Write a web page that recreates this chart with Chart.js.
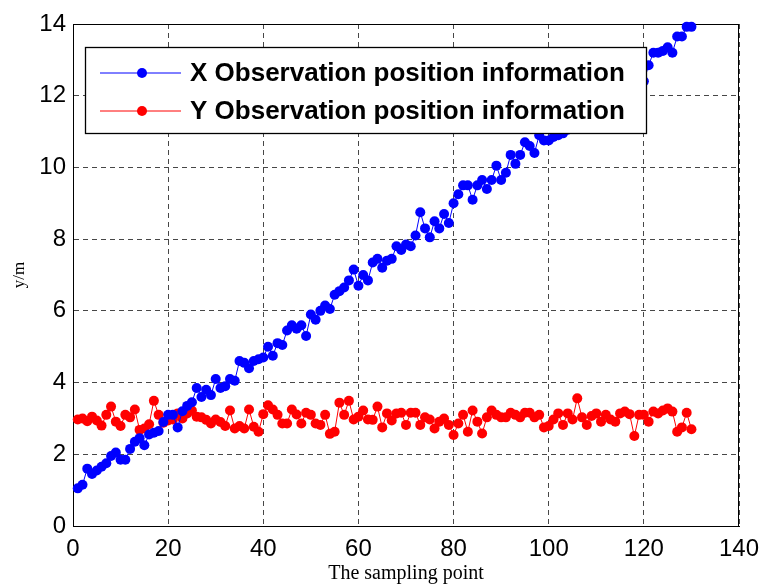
<!DOCTYPE html>
<html><head><meta charset="utf-8">
<script src="https://cdn.jsdelivr.net/npm/chart.js@4/dist/chart.umd.min.js"></script>
<style>html,body{margin:0;padding:0;background:#fff;}#wrap{width:762px;height:586px;}</style>
</head><body><div id="wrap"><canvas id="c" width="762" height="586"></canvas></div>
<script>
const seriesNames = ['X Observation position information', 'Y Observation position information'];
const xObservation = [
 1.05,1.15,1.6,1.45,1.55,1.65,1.75,1.95,2.05,1.85,
 1.85,2.15,2.35,2.45,2.25,2.55,2.6,2.65,2.9,3.1,
 3.1,2.75,3.2,3.35,3.45,3.85,3.6,3.8,3.65,4.1,
 3.85,3.9,4.1,4.05,4.6,4.55,4.4,4.6,4.65,4.7,
 5.0,4.75,5.1,5.05,5.45,5.6,5.5,5.6,5.3,5.9,
 5.75,6.0,6.15,6.05,6.45,6.55,6.65,6.85,7.15,6.7,
 7.0,6.85,7.35,7.45,7.2,7.4,7.45,7.8,7.7,7.85,
 7.8,8.1,8.75,8.3,8.05,8.5,8.3,8.7,8.45,9.0,
 9.25,9.5,9.5,9.1,9.5,9.65,9.4,9.65,10.05,9.65,
 9.85,10.35,10.1,10.35,10.7,10.6,10.4,10.9,10.75,10.75,
 10.85,10.9,10.95,11.05,11.15,11.1,11.3,11.4,11.35,11.55,
 11.6,11.7,11.65,11.85,11.9,12.0,12.1,12.05,12.25,12.4,
 12.85,13.2,13.2,13.25,13.35,13.2,13.65,13.65,13.92,13.92
];
const yObservation = [
 2.97,3.0,2.92,3.05,2.94,2.8,3.1,3.33,2.91,2.79,
 3.1,3.03,3.25,2.68,2.72,2.84,3.49,3.1,2.88,2.94,
 2.97,3.14,3.0,3.14,3.22,3.05,3.03,2.96,2.86,2.97,
 2.9,2.79,3.22,2.72,2.79,2.72,3.25,2.77,2.63,3.12,
 3.37,3.25,3.1,2.86,2.86,3.25,3.11,2.86,3.16,3.1,
 2.86,2.82,3.1,2.57,2.63,3.44,3.1,3.49,2.97,3.05,
 3.22,2.97,2.96,3.33,2.75,3.14,2.94,3.14,3.16,2.82,
 3.16,3.16,2.82,3.03,2.97,2.72,2.91,3.0,2.82,2.54,
 2.86,3.1,2.63,3.22,2.91,2.58,3.03,3.22,3.1,3.03,
 3.03,3.16,3.1,3.03,3.16,3.16,3.03,3.1,2.75,2.79,
 2.97,3.14,2.82,3.14,2.97,3.56,3.03,2.82,3.07,3.14,
 2.91,3.1,2.97,2.91,3.14,3.19,3.12,2.51,3.1,3.1,
 2.91,3.19,3.14,3.22,3.28,3.19,2.63,2.75,3.16,2.7
];
const xTickValues = [0,20,40,60,80,100,120,140];
const yTickValues = [0,2,4,6,8,10,12,14];
const seriesColors = ['#0000ff', '#ff0000'];

const toPoints = arr => arr.map((v, i) => ({x: i + 1, y: v}));

const frameAndLegend = {
  id: 'frameAndLegend',
  beforeDatasetsDraw(chart) {
    const {ctx, chartArea: a} = chart;
    ctx.save();
    ctx.strokeStyle = '#000';
    ctx.lineWidth = 1;
    ctx.setLineDash([]);
    ctx.strokeRect(Math.round(a.left) + 0.5, Math.round(a.top) + 0.5, Math.round(a.right - a.left) - 1, Math.round(a.bottom - a.top));
    ctx.restore();
  },
  afterDraw(chart) {
    const {ctx, chartArea: a} = chart;
    const bx = a.left + 12, by = a.top + 23, bw = 561, bh = 86;
    ctx.save();
    ctx.fillStyle = '#fff';
    ctx.fillRect(bx, by, bw, bh);
    ctx.strokeStyle = '#000';
    ctx.lineWidth = 1.3;
    ctx.strokeRect(bx + 0.5, by + 0.5, bw, bh);
    chart.data.datasets.forEach((ds, k) => {
      const cy = by + 26 + k * 38;
      ctx.strokeStyle = ds.borderColor;
      ctx.lineWidth = 1;
      ctx.beginPath();
      ctx.moveTo(bx + 15, cy);
      ctx.lineTo(bx + 96, cy);
      ctx.stroke();
      ctx.fillStyle = ds.backgroundColor;
      ctx.beginPath();
      ctx.arc(bx + 57, cy, 5, 0, Math.PI * 2);
      ctx.fill();
      ctx.fillStyle = '#000';
      ctx.font = 'bold 26px "Liberation Sans", Arial, sans-serif';
      ctx.textBaseline = 'middle';
      ctx.textAlign = 'left';
      ctx.fillText(ds.label, bx + 105, cy + 1);
    });
    ctx.restore();
  }
};

const gridCommon = {
  color: 'rgba(0,0,0,0.72)',
  lineWidth: 1,
  drawTicks: false,
};

new Chart(document.getElementById('c'), {
  type: 'line',
  data: {
    datasets: [
      {label: seriesNames[0], data: toPoints(xObservation), borderColor: seriesColors[0], backgroundColor: seriesColors[0],
       borderWidth: 1, pointRadius: 5, pointBorderWidth: 0, pointHoverRadius: 5, clip: false, tension: 0},
      {label: seriesNames[1], data: toPoints(yObservation), borderColor: seriesColors[1], backgroundColor: seriesColors[1],
       borderWidth: 1, pointRadius: 5, pointBorderWidth: 0, pointHoverRadius: 5, clip: false, tension: 0}
    ]
  },
  options: {
    responsive: false,
    animation: false,
    devicePixelRatio: 1,
    layout: {padding: {left: 0, top: 24, right: 23, bottom: 0}},
    plugins: {legend: {display: false}, tooltip: {enabled: false}},
    scales: {
      x: {
        type: 'linear', min: 0, max: 140,
        afterBuildTicks: s => { s.ticks = xTickValues.map(v => ({value: v})); },
        afterFit: s => { s.height = 60; s.paddingLeft = 0; s.paddingRight = 0; },
        grid: gridCommon,
        border: {display: true, color: '#000', width: 1, dash: [5, 4]},
        ticks: {color: '#000', padding: 9, font: {family: '"Liberation Sans", Arial, sans-serif', size: 24}, maxRotation: 0, autoSkip: false},
        title: {display: true, text: 'The sampling point', color: '#000', padding: {top: 0, bottom: 0},
                font: {family: '"Liberation Serif", "Times New Roman", serif', size: 20}}
      },
      y: {
        type: 'linear', min: 0, max: 14,
        afterBuildTicks: s => { s.ticks = yTickValues.map(v => ({value: v})); },
        afterFit: s => { s.width = 73; s.paddingTop = 0; s.paddingBottom = 0; },
        grid: gridCommon,
        border: {display: true, color: '#000', width: 1, dash: [5, 4]},
        ticks: {color: '#000', padding: 7, font: {family: '"Liberation Sans", Arial, sans-serif', size: 24}, autoSkip: false},
        title: {display: true, text: 'y/m', color: '#000', padding: {top: 9, bottom: 0},
                font: {family: '"Liberation Serif", "Times New Roman", serif', size: 17}}
      }
    }
  },
  plugins: [frameAndLegend]
});
</script>
</body></html>
